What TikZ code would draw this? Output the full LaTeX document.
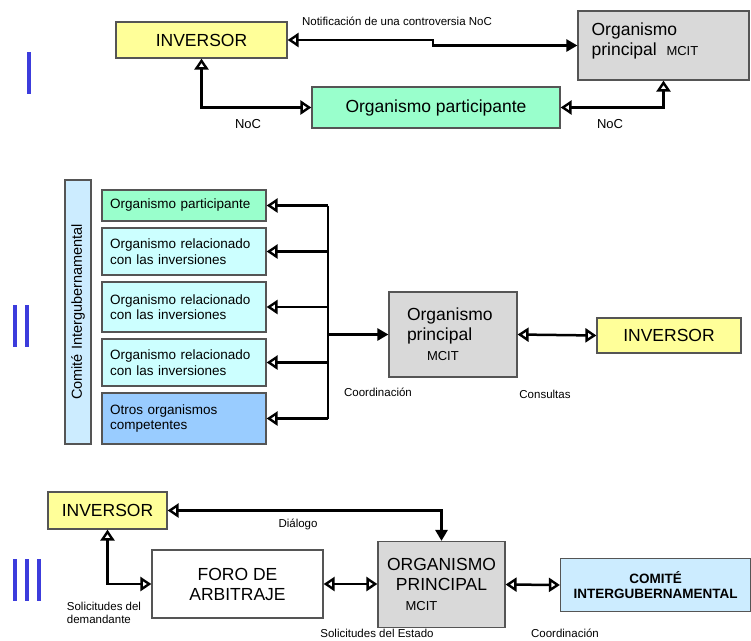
\documentclass[tikz,border=0pt]{standalone}
\usepackage{fontspec}
\setmainfont{Liberation Sans}
\usetikzlibrary{arrows.meta,positioning}

\definecolor{amarillo}{HTML}{FFFF99}
\definecolor{gris}{HTML}{D9D9D9}
\definecolor{menta}{HTML}{99FFCC}
\definecolor{cian}{HTML}{CCFFFF}
\definecolor{azulclaro}{HTML}{99CCFF}
\definecolor{celeste}{HTML}{CCECFF}
\definecolor{borde}{HTML}{555555}
\definecolor{barra}{HTML}{3C3CDC}

\newcommand{\grande}{\fontsize{17.5}{20}\selectfont}
\newcommand{\medio}{\fontsize{13.5}{15.5}\selectfont}
\newcommand{\chico}{\fontsize{11.5}{13.5}\selectfont}
\newcommand{\mcit}{\fontsize{13}{15}\selectfont}

\begin{document}
\begin{tikzpicture}[x=1pt,y=-1pt,
	caja/.style={draw=borde, line width=1.2pt, inner sep=0pt},
	abierta/.tip={Triangle[open,length=11pt,width=14pt,line width=2.4pt]},
	llena/.tip={Triangle[length=11pt,width=12pt]},
	gruesa/.style={line width=3.5pt},
	fina/.style={line width=2.5pt}]

	\useasboundingbox (0,0) rectangle (751,640);

	% I
	\fill[barra] (27,52) rectangle (31,94);

	\node[caja, fill=amarillo, minimum width=171pt, minimum height=36pt, font=\grande] (inv1) at (201.5,40) {INVERSOR};
	\node[caja, fill=gris, minimum width=171pt, minimum height=69pt] (org1) at (663.5,45.5) {};
	\node[below right=12pt and 14pt of org1.north west, inner sep=0pt, align=left, font=\grande] (org1txt) {Organismo\\principal \ {\mcit MCIT}};
	\node[caja, fill=menta, minimum width=248pt, minimum height=41pt, font=\grande] (part1) at (436,107.5) {Organismo participante};

	\draw[fina, abierta-llena] (inv1.east) -- (433,40) |- (org1.west);
	\draw[gruesa, abierta-abierta] (inv1.south) |- (part1.west);
	\draw[gruesa, abierta-abierta] (part1.east) -| (org1.south);

	\node[font=\chico] (notif) at (397,21) {Notificación de una controversia NoC};
	\node[font=\fontsize{13}{15}\selectfont] (noc1) at (248,124) {NoC};
	\node[font=\fontsize{13}{15}\selectfont] (noc2) at (610,124) {NoC};

	% II
	\fill[barra] (13,305) rectangle (17,347);
	\fill[barra] (25,305) rectangle (29,347);

	\node[caja, fill=celeste, rotate=90, minimum width=264pt, minimum height=26pt, font=\fontsize{14.5}{16}\selectfont] (comite2) at (78,312) {Comité Intergubernamental};

	\node[caja, fill=menta, minimum width=164pt, minimum height=31pt, text width=148pt, align=left, font=\medio] (part2) at (184,205.5) {Organismo participante};
	\node[caja, fill=cian, minimum width=164pt, minimum height=47pt, text width=148pt, align=left, font=\medio] (rel1) at (184,251.5) {Organismo relacionado\\con las inversiones};
	\node[caja, fill=cian, minimum width=164pt, minimum height=50pt, text width=148pt, align=left, font=\medio] (rel2) at (184,307) {Organismo relacionado\\con las inversiones};
	\node[caja, fill=cian, minimum width=164pt, minimum height=47pt, text width=148pt, align=left, font=\medio] (rel3) at (184,362.5) {Organismo relacionado\\con las inversiones};
	\node[caja, fill=azulclaro, minimum width=164pt, minimum height=51pt, text width=148pt, align=left, font=\medio] (otros) at (184,418.5) {Otros organismos\\competentes};

	\node[caja, fill=gris, minimum width=128pt, minimum height=85pt, text width=92pt, align=left, font=\grande] (org2) at (453,334.5) {Organismo\\principal\\\hspace*{20pt}{\mcit MCIT}};
	\node[caja, fill=amarillo, minimum width=144pt, minimum height=35pt, font=\grande] (inv2) at (669,335.5) {INVERSOR};

	\coordinate (bus) at (328,0);
	\draw[fina] (part2.east -| bus) -- (otros.east -| bus);
	\foreach \caja in {part2,rel1,rel2,rel3,otros}
		\draw[fina, -abierta] (\caja.east -| bus) -- (\caja.east);
	\draw[fina, -llena] (bus |- org2.west) -- (org2.west);
	\draw[fina, abierta-abierta] (org2.east) -- (inv2.west);

	\node[font=\chico] (coord2) at (378,392) {Coordinación};
	\node[font=\chico] (consultas) at (545,394) {Consultas};

	% III
	\fill[barra] (13,559) rectangle (17,601);
	\fill[barra] (25,559) rectangle (29,601);
	\fill[barra] (37,559) rectangle (41,601);

	\node[caja, fill=amarillo, minimum width=119pt, minimum height=37pt, font=\grande] (inv3) at (107.5,510.5) {INVERSOR};
	\node[caja, fill=white, minimum width=171pt, minimum height=68pt, align=center, font=\grande] (foro) at (237.5,584) {FORO DE\\ARBITRAJE};
	\node[caja, fill=gris, minimum width=127pt, minimum height=86pt, align=center, font=\grande] (org3) at (441.5,584.5) {ORGANISMO\\PRINCIPAL\\{\mcit MCIT}\hspace*{40pt}};
	\node[caja, fill=celeste, minimum width=190pt, minimum height=53pt, align=center, font=\bfseries\medio] (comite3) at (655.5,585) {COMITÉ\\INTERGUBERNAMENTAL};

	\draw[gruesa, abierta-llena] (inv3.east) -| (org3.north);
	\draw[fina, abierta-abierta] (inv3.south) |- (foro.west);
	\draw[fina, abierta-abierta] (foro.east) -- (org3.west |- foro.east);
	\draw[fina, abierta-abierta] (org3.east) -- (comite3.west);

	\node[font=\chico] (dialogo) at (298,524) {Diálogo};
	\node[font=\chico, align=left] (demandante) at (104,613) {Solicitudes del\\demandante};
	\node[font=\chico] (estado) at (377,633) {Solicitudes del Estado};
	\node[font=\chico] (coord3) at (565,633) {Coordinación};

\end{tikzpicture}
\end{document}
